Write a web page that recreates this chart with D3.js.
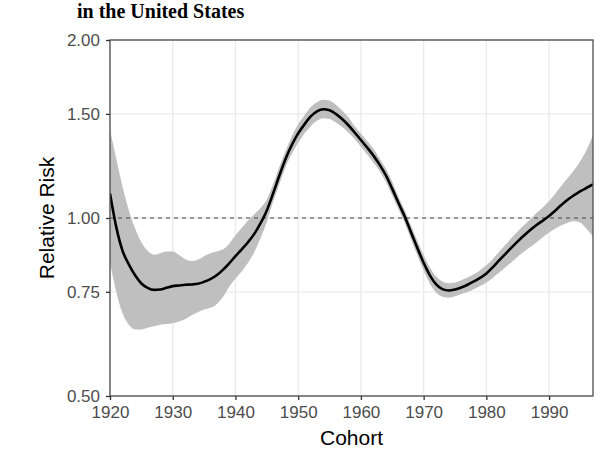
<!DOCTYPE html>
<html>
<head>
<meta charset="utf-8">
<script src="https://d3js.org/d3.v7.min.js"></script>
<style>
  body { margin: 0; background: #fff; }
</style>
</head>
<body>
<svg id="chart" width="604" height="452"></svg>
<script>
// birth cohorts
var cohorts = [1920, 1921, 1922, 1923, 1924, 1925, 1926, 1927, 1928, 1929,
    1930, 1931, 1932, 1933, 1934, 1935, 1936, 1937, 1938, 1939,
    1940, 1941, 1942, 1943, 1944, 1945, 1946, 1947, 1948, 1949,
    1950, 1951, 1952, 1953, 1954, 1955, 1956, 1957, 1958, 1959,
    1960, 1961, 1962, 1963, 1964, 1965, 1966, 1967, 1968, 1969,
    1970, 1971, 1972, 1973, 1974, 1975, 1976, 1977, 1978, 1979,
    1980, 1981, 1982, 1983, 1984, 1985, 1986, 1987, 1988, 1989,
    1990, 1991, 1992, 1993, 1994, 1995, 1996, 1997];

// relative risk estimate
var risk = [1.10, 0.965, 0.88, 0.835, 0.80, 0.775, 0.762, 0.756, 0.757, 0.762,
    0.767, 0.769, 0.771, 0.772, 0.774, 0.78, 0.788, 0.80, 0.817, 0.838,
    0.862, 0.885, 0.91, 0.94, 0.98, 1.03, 1.10, 1.18, 1.26, 1.33,
    1.39, 1.44, 1.485, 1.515, 1.527, 1.522, 1.50, 1.47, 1.435, 1.395,
    1.355, 1.315, 1.275, 1.23, 1.18, 1.12, 1.06, 1.005, 0.945, 0.89,
    0.84, 0.80, 0.772, 0.758, 0.754, 0.757, 0.763, 0.771, 0.781, 0.792,
    0.806, 0.825, 0.847, 0.869, 0.891, 0.913, 0.934, 0.954, 0.973, 0.99,
    1.008, 1.03, 1.053, 1.075, 1.093, 1.11, 1.125, 1.14];

// lower confidence bound
var lower = [0.84, 0.75, 0.69, 0.66, 0.648, 0.648, 0.652, 0.656, 0.66, 0.662,
    0.664, 0.668, 0.675, 0.685, 0.693, 0.70, 0.705, 0.715, 0.735, 0.765,
    0.79, 0.812, 0.84, 0.875, 0.925, 0.985, 1.065, 1.14, 1.22, 1.285,
    1.34, 1.39, 1.43, 1.46, 1.475, 1.47, 1.45, 1.425, 1.395, 1.36,
    1.32, 1.28, 1.24, 1.2, 1.15, 1.09, 1.035, 0.98, 0.92, 0.865,
    0.815, 0.775, 0.748, 0.736, 0.733, 0.737, 0.744, 0.75, 0.758, 0.767,
    0.778, 0.792, 0.808, 0.825, 0.842, 0.86, 0.877, 0.893, 0.91, 0.928,
    0.945, 0.96, 0.972, 0.982, 0.987, 0.982, 0.958, 0.93];

// upper confidence bound
var upper = [1.41, 1.26, 1.13, 1.03, 0.96, 0.91, 0.88, 0.867, 0.872, 0.878,
    0.878, 0.866, 0.852, 0.846, 0.85, 0.862, 0.872, 0.878, 0.885, 0.905,
    0.935, 0.962, 0.99, 1.015, 1.04, 1.075, 1.14, 1.22, 1.30, 1.375,
    1.44, 1.49, 1.54, 1.57, 1.585, 1.58, 1.555, 1.52, 1.48, 1.43,
    1.39, 1.35, 1.31, 1.26, 1.21, 1.15, 1.085, 1.03, 0.97, 0.915,
    0.865, 0.825, 0.796, 0.781, 0.776, 0.778, 0.785, 0.793, 0.803, 0.816,
    0.832, 0.852, 0.876, 0.90, 0.925, 0.95, 0.972, 0.995, 1.02, 1.042,
    1.068, 1.10, 1.135, 1.17, 1.205, 1.25, 1.305, 1.38];

var xTicks = [1920, 1930, 1940, 1950, 1960, 1970, 1980, 1990];
var yTicks = [0.50, 0.75, 1.00, 1.50, 2.00];

var data = cohorts.map(function (c, i) {
    return { cohort: c, rr: risk[i], lo: lower[i], hi: upper[i] };
});

var svg = d3.select("#chart");

// panel edges in pixels
var panel = { left: 110, right: 593, top: 40, bottom: 396 };

var x = d3.scaleLinear()
    .domain([1920, 1997])
    .range([panel.left, panel.right]);

var y = d3.scaleLog()
    .domain([0.5, 2])
    .range([panel.bottom, panel.top]);

// title
svg.append("text")
    .attr("x", 77)
    .attr("y", 18)
    .style("font-family", "'Liberation Serif', 'Times New Roman', serif")
    .style("font-weight", "bold")
    .style("font-size", "20px")
    .attr("fill", "#000")
    .text("in the United States");

// grid
svg.append("g")
    .selectAll("line")
    .data(xTicks)
    .enter()
    .append("line")
    .attr("x1", d => x(d)).attr("x2", d => x(d))
    .attr("y1", panel.top).attr("y2", panel.bottom)
    .attr("stroke", "#ebebeb")
    .attr("stroke-width", 1.4);

svg.append("g")
    .selectAll("line")
    .data(yTicks)
    .enter()
    .append("line")
    .attr("x1", panel.left).attr("x2", panel.right)
    .attr("y1", d => y(d)).attr("y2", d => y(d))
    .attr("stroke", "#ebebeb")
    .attr("stroke-width", 1.4);

svg.append("clipPath")
    .attr("id", "panelclip")
    .append("rect")
    .attr("x", panel.left).attr("y", panel.top)
    .attr("width", panel.right - panel.left).attr("height", panel.bottom - panel.top);

var plot = svg.append("g").attr("clip-path", "url(#panelclip)");

// confidence ribbon
var band = d3.area()
    .curve(d3.curveMonotoneX)
    .x(d => x(d.cohort))
    .y0(d => y(d.lo))
    .y1(d => y(d.hi));

plot.append("path")
    .datum(data)
    .attr("d", band)
    .attr("fill", "#bfbfbf");

// reference line at 1
plot.append("line")
    .attr("x1", panel.left).attr("x2", panel.right)
    .attr("y1", y(1)).attr("y2", y(1))
    .attr("stroke", "#444")
    .attr("stroke-width", 1.1)
    .attr("stroke-dasharray", "4,4");

// estimate
var line = d3.line()
    .curve(d3.curveMonotoneX)
    .x(d => x(d.cohort))
    .y(d => y(d.rr));

plot.append("path")
    .datum(data)
    .attr("d", line)
    .attr("fill", "none")
    .attr("stroke", "#000")
    .attr("stroke-width", 2.6);

// panel border
svg.append("rect")
    .attr("x", panel.left).attr("y", panel.top)
    .attr("width", panel.right - panel.left).attr("height", panel.bottom - panel.top)
    .attr("fill", "none")
    .attr("stroke", "#4d4d4d")
    .attr("stroke-width", 1.3);

// axes
var xAxis = svg.append("g")
    .attr("transform", "translate(0," + panel.bottom + ")")
    .call(d3.axisBottom(x).tickValues(xTicks).tickFormat(d3.format("d")).tickSize(4).tickPadding(6));

var yAxis = svg.append("g")
    .attr("transform", "translate(" + panel.left + ",0)")
    .call(d3.axisLeft(y).tickValues(yTicks).tickFormat(d3.format(".2f")).tickSize(4).tickPadding(6));

[xAxis, yAxis].forEach(function (ax) {
    ax.select(".domain").remove();
    ax.selectAll(".tick line").attr("stroke", "#333").attr("stroke-width", 1.3);
    ax.selectAll(".tick text")
        .attr("fill", "#4d4d4d")
        .style("font-family", "'Liberation Sans', Arial, sans-serif")
        .style("font-size", "17px");
});

// axis titles
svg.append("text")
    .attr("x", (panel.left + panel.right) / 2)
    .attr("y", 445)
    .attr("text-anchor", "middle")
    .style("font-family", "'Liberation Sans', Arial, sans-serif")
    .style("font-size", "21px")
    .text("Cohort");

svg.append("text")
    .attr("transform", "translate(54," + (panel.top + panel.bottom) / 2 + ") rotate(-90)")
    .attr("text-anchor", "middle")
    .style("font-family", "'Liberation Sans', Arial, sans-serif")
    .style("font-size", "21px")
    .text("Relative Risk");
</script>
</body>
</html>
